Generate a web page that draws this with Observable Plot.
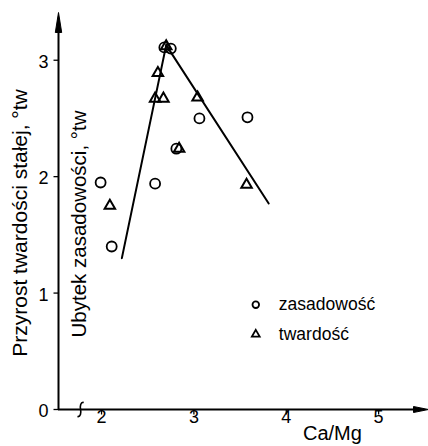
<!DOCTYPE html>
<html><head><meta charset="utf-8">
<script src="https://cdn.jsdelivr.net/npm/d3@7"></script>
<script src="https://cdn.jsdelivr.net/npm/@observablehq/plot@0.6"></script>
<style>body{margin:0;background:#fff} svg{display:block}</style>
</head><body><div id="chart"></div>
<script>
// Data
const circleX = [1.99, 2.11, 2.58, 2.68, 2.75, 2.81, 3.06, 3.58];
const circleY = [1.95, 1.40, 1.94, 3.11, 3.10, 2.24, 2.50, 2.51];
const triangleX = [2.09, 2.58, 2.61, 2.67, 2.70, 2.84, 3.04, 3.57];
const triangleY = [1.75, 2.67, 2.89, 2.67, 3.12, 2.24, 2.68, 1.93];
const riseX = [2.22, 2.70];
const riseY = [1.30, 3.13];
const fallX = [2.70, 3.81];
const fallY = [3.13, 1.77];
const xTicks = [2, 3, 4, 5];
const yTicks = [0, 1, 2, 3];
const legendLabels = ["zasadowość", "twardość"];
const yLabelOuter = "Przyrost twardości stałej, °tw";
const yLabelInner = "Ubytek zasadowości, °tw";
const xLabel = "Ca/Mg";

const xDomain = [1.534, 5.54];
const yDomain = [0, 3.41];

const circles = circleX.map((x, i) => ({x, y: circleY[i]}));
const triangles = triangleX.map((x, i) => ({x, y: triangleY[i]}));
const rise = riseX.map((x, i) => ({x, y: riseY[i]}));
const fall = fallX.map((x, i) => ({x, y: fallY[i]}));
const xTickRows = xTicks.map(v => ({v, label: String(v)}));
const yTickRows = yTicks.map(v => ({v, label: String(v)}));

// custom symbols: axis arrowheads, tick marks, axis break
const arrowUp = {
  draw(ctx, size) {
    const r = Math.sqrt(size / Math.PI);
    ctx.moveTo(0, 0); ctx.lineTo(0.32 * r, 2 * r); ctx.lineTo(-0.32 * r, 2 * r); ctx.closePath();
  }
};
const arrowRight = {
  draw(ctx, size) {
    const r = Math.sqrt(size / Math.PI);
    ctx.moveTo(0, 0); ctx.lineTo(-2 * r, 0.4 * r); ctx.lineTo(-2 * r, -0.4 * r); ctx.closePath();
  }
};
const tickLeft = {draw(ctx, size) { const r = Math.sqrt(size / Math.PI); ctx.moveTo(0, 0); ctx.lineTo(-r, 0); }};
const tickDown = {draw(ctx, size) { const r = Math.sqrt(size / Math.PI); ctx.moveTo(0, 0); ctx.lineTo(0, r); }};
const breakMark = {
  draw(ctx, size) {
    const r = Math.sqrt(size / Math.PI);
    ctx.moveTo(0.45 * r, -r);
    ctx.bezierCurveTo(0.0 * r, -1.1 * r, -0.1 * r, -0.5 * r, 0, 0);
    ctx.bezierCurveTo(0.1 * r, 0.5 * r, 0.0 * r, 1.1 * r, -0.45 * r, r);
  }
};

const font = "'Liberation Sans', Arial, Helvetica, sans-serif";
const legendX = 3.67, legendTextX = 3.92;
const legendRows = [
  {label: legendLabels[0], symbol: "circle", y: 0.90},
  {label: legendLabels[1], symbol: "triangle", y: 0.645}
];
const yMid = (yDomain[0] + yDomain[1]) / 2;

const chart = Plot.plot({
  width: 428,
  height: 446,
  marginLeft: 58,
  marginRight: 0,
  marginTop: 12,
  marginBottom: 37,
  style: {fontFamily: font, color: "#000", background: "#fff", overflow: "visible"},
  x: {domain: xDomain, axis: null},
  y: {domain: yDomain, axis: null},
  marks: [
    Plot.dot(yTickRows, {y: "v", x: () => xDomain[0], symbol: tickLeft, r: 5, stroke: "#000", strokeWidth: 1.3}),
    Plot.dot(xTickRows, {x: "v", y: () => 0, symbol: tickDown, r: 5, stroke: "#000", strokeWidth: 1.3}),
    Plot.text(yTickRows, {y: "v", frameAnchor: "left", text: "label", textAnchor: "end", dx: -10, dy: 2, fontSize: 18, fill: "#000"}),
    Plot.text(xTickRows, {x: "v", frameAnchor: "bottom", text: "label", textAnchor: "middle", dy: 13, fontSize: 18, fill: "#000"}),
    Plot.ruleX([xDomain[0]], {y1: yDomain[0], y2: yDomain[1] - 0.05, strokeWidth: 2}),
    Plot.ruleY([yDomain[0]], {x1: xDomain[0], x2: xDomain[1] - 0.05, strokeWidth: 2}),
    Plot.dot([{x: xDomain[0], y: yDomain[1]}], {x: "x", y: "y", symbol: arrowUp, r: 10, fill: "#000", stroke: "#000", strokeWidth: 1}),
    Plot.dot([{x: xDomain[1], y: yDomain[0]}], {x: "x", y: "y", symbol: arrowRight, r: 7.5, fill: "#000", stroke: "#000", strokeWidth: 1}),
    Plot.dot([{x: 1.773, y: 0}], {x: "x", y: "y", symbol: breakMark, r: 7, fill: "none", stroke: "#000", strokeWidth: 1.6}),
    Plot.line(rise, {x: "x", y: "y", stroke: "#000", strokeWidth: 2}),
    Plot.line(fall, {x: "x", y: "y", stroke: "#000", strokeWidth: 2}),
    Plot.dot(circles, {x: "x", y: "y", symbol: "circle", r: 5, fill: "none", stroke: "#000", strokeWidth: 1.8}),
    Plot.dot(triangles, {x: "x", y: "y", symbol: "triangle", r: 3.9, fill: "none", stroke: "#000", strokeWidth: 2}),
    Plot.dot(legendRows, {x: () => legendX, y: "y", symbol: "symbol", r: d => d.symbol === "circle" ? 5 : 3.9, fill: "none", stroke: "#000", strokeWidth: 1.8}),
    Plot.text(legendRows, {x: () => legendTextX, y: "y", text: "label", textAnchor: "start", fontSize: 17.5, fill: "#000"}),
    Plot.text([{t: yLabelOuter}], {x: () => xDomain[0], y: () => yMid, text: "t", textAnchor: "middle", rotate: -90, dx: -38, dy: 12, fontSize: 21, fill: "#000"}),
    Plot.text([{t: yLabelInner}], {x: () => xDomain[0], y: () => yMid, text: "t", textAnchor: "middle", rotate: -90, dx: 21, dy: 13, fontSize: 20.5, fill: "#000"}),
    Plot.text([{t: xLabel}], {x: () => 4.5, frameAnchor: "bottom", text: "t", textAnchor: "middle", dy: 30, fontSize: 20, fill: "#000"})
  ]
});
document.getElementById("chart").appendChild(chart);
</script>
</body></html>
